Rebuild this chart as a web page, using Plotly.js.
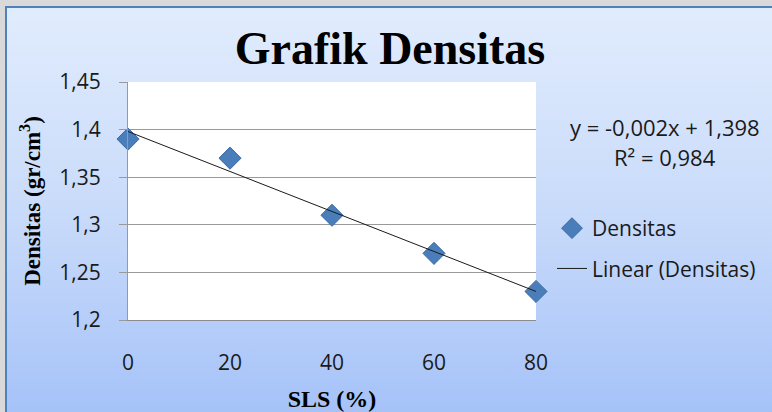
<!DOCTYPE html>
<html>
<head>
<meta charset="utf-8">
<script src="https://cdn.plot.ly/plotly-3.0.1.min.js"></script>
<style>
  html, body { margin: 0; padding: 0; }
  #wrap { position: relative; width: 772px; height: 412px; background: #d9d9d9; overflow: hidden; }
  #frame { position: absolute; left: 5px; top: 6px; width: 767px; height: 406px;
           border-left: 2px solid #4f81bd; border-top: 2px solid #4f81bd;
           background: linear-gradient(to bottom, #e1ecfd 0%, #c9dbfa 50%, #a5c2f8 100%); }
  #chart { position: absolute; left: 0; top: 0; width: 772px; height: 412px; }
</style>
</head>
<body>
<div id="wrap">
  <div id="frame"></div>
  <div id="chart"></div>
</div>
<script>
// Data
const slsPercent = [0, 20, 40, 60, 80];
const densitas = [1.39, 1.37, 1.31, 1.27, 1.23];
const yTickVals = [1.2, 1.25, 1.3, 1.35, 1.4, 1.45];
const yTickText = ['1,2', '1,25', '1,3', '1,35', '1,4', '1,45'];
const xTickVals = [0, 20, 40, 60, 80];
const xTickText = ['0', '20', '40', '60', '80'];

// Linear regression (Excel trendline) computed from the data
const n = slsPercent.length;
const mx = slsPercent.reduce((a, b) => a + b, 0) / n;
const my = densitas.reduce((a, b) => a + b, 0) / n;
let sxy = 0, sxx = 0;
for (let i = 0; i < n; i++) {
  sxy += (slsPercent[i] - mx) * (densitas[i] - my);
  sxx += (slsPercent[i] - mx) ** 2;
}
const slope = sxy / sxx;
const intercept = my - slope * mx;
let ssRes = 0, ssTot = 0;
for (let i = 0; i < n; i++) {
  const p = intercept + slope * slsPercent[i];
  ssRes += (densitas[i] - p) ** 2;
  ssTot += (densitas[i] - my) ** 2;
}
const r2 = 1 - ssRes / ssTot;
const fmt = v => v.toFixed(3).replace('.', ',');
const xLine = [Math.min(...slsPercent), Math.max(...slsPercent)];
const yLine = xLine.map(x => intercept + slope * x);

const sans = 'Open Sans, Liberation Sans, sans-serif';
const tickFont = { family: sans, size: 21, color: '#1a1a1a' };
const serif = 'Liberation Serif, Times New Roman, serif';

const traces = [
  {
    x: slsPercent, y: densitas, type: 'scatter', mode: 'markers', name: 'Densitas',
    legendgroup: 'a',
    marker: { symbol: 'diamond', size: 17, color: '#4a7ebb', line: { color: '#3b6aa3', width: 1 } },
    cliponaxis: false
  },
  {
    x: xLine, y: yLine, type: 'scatter', mode: 'lines', name: 'Linear (Densitas)',
    legendgroup: 'b',
    line: { color: '#1a1a1a', width: 1 }
  }
];

const layout = {
  width: 772, height: 412,
  margin: { l: 128, r: 235, t: 82, b: 92 },
  paper_bgcolor: 'rgba(0,0,0,0)',
  plot_bgcolor: '#ffffff',
  title: {
    text: '<b>Grafik Densitas</b>',
    font: { family: serif, size: 46, color: '#000000' },
    x: 390 / 772, xanchor: 'center', xref: 'container',
    y: 1 - 48 / 412, yanchor: 'middle', yref: 'container'
  },
  xaxis: {
    range: [0, 80], tickvals: xTickVals, ticktext: xTickText,
    showgrid: false, zeroline: false, showline: true, linecolor: '#8c8c8c', linewidth: 1,
    ticks: '', ticklabelstandoff: 24, tickfont: tickFont,
    title: { text: '<b>SLS (%)</b>', font: { family: serif, size: 24, color: '#000000' }, standoff: 14 },
    fixedrange: true
  },
  yaxis: {
    range: [1.2, 1.45], tickvals: yTickVals, ticktext: yTickText,
    showgrid: true, gridcolor: '#999999', gridwidth: 1, zeroline: false,
    showline: true, linecolor: '#999999', linewidth: 1,
    ticks: 'outside', ticklen: 8, tickcolor: '#999999', ticklabelstandoff: 14, tickfont: tickFont,
    automargin: true,
    title: { text: '<b>Densitas (gr/cm<sup>3</sup>)</b>', font: { family: serif, size: 23, color: '#000000' }, standoff: 12 },
    fixedrange: true
  },
  showlegend: true,
  legend: {
    x: (552 - 128) / 409, xanchor: 'left', y: (320 - 208) / 238, yanchor: 'top',
    bgcolor: 'rgba(0,0,0,0)', borderwidth: 0,
    font: { family: sans, size: 21, color: '#1a1a1a' },
    tracegroupgap: 10, traceorder: 'grouped'
  },
  annotations: [
    {
      text: 'y = ' + fmt(slope) + 'x + ' + fmt(intercept),
      xref: 'paper', yref: 'paper', x: (666 - 128) / 409, y: (320 - 127) / 238,
      xanchor: 'center', yanchor: 'middle', showarrow: false,
      font: { family: sans, size: 22, color: '#1a1a1a' }
    },
    {
      text: 'R² = ' + fmt(r2),
      xref: 'paper', yref: 'paper', x: (666 - 128) / 409, y: (320 - 157) / 238,
      xanchor: 'center', yanchor: 'middle', showarrow: false,
      font: { family: sans, size: 22, color: '#1a1a1a' }
    }
  ]
};

Plotly.newPlot('chart', traces, layout, { displayModeBar: false, staticPlot: true });
</script>
</body>
</html>
